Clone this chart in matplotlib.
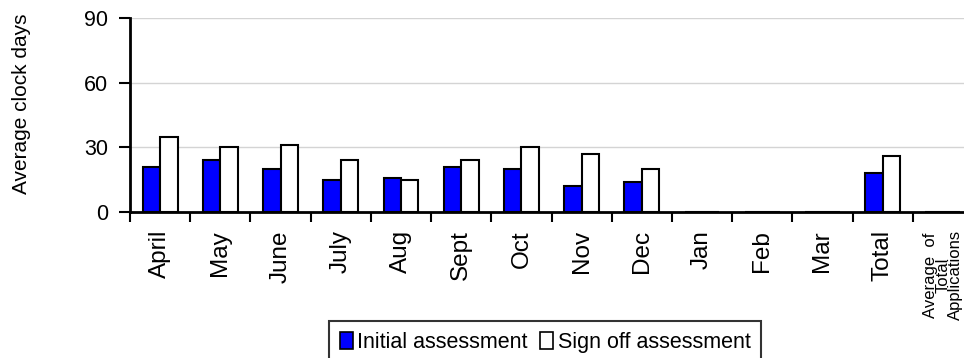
import numpy as np
import matplotlib
matplotlib.use("Agg")
import matplotlib.pyplot as plt
from matplotlib.patches import Patch

plt.rcParams['font.family'] = ['Liberation Sans', 'DejaVu Sans']

# data
months = ['April', 'May', 'June', 'July', 'Aug', 'Sept', 'Oct', 'Nov', 'Dec',
          'Jan', 'Feb', 'Mar', 'Total', 'Average  of\nTotal\nApplications']
initial = [21, 24, 20, 15, 16, 21, 20, 12, 14, 0, 0, 0, 18, 0]
sign_off = [35, 30, 31, 24, 15, 24, 30, 27, 20, 0, 0, 0, 26, 0]

fig = plt.figure(figsize=(9.64, 3.58), dpi=100)
ax = fig.add_axes([130/964, 1 - 212/358, 843/964, 194/358])

x = np.arange(len(months))
w = 0.29
ax.bar(x - w/2, initial, w, color='#0000ff', edgecolor='black', linewidth=1.5, zorder=3)
ax.bar(x + w/2, sign_off, w, color='white', edgecolor='black', linewidth=1.5, zorder=3)

ax.set_xlim(-0.5, len(months) - 0.5)
ax.set_ylim(0, 90)
ax.set_yticks([0, 30, 60, 90])
ax.grid(axis='y', color='#d4d4d4', linewidth=1, zorder=0)

# ticks at category boundaries, labels at centers
ax.set_xticks(np.arange(len(months) + 1) - 0.5)
ax.set_xticklabels([])
ax.set_xticks(x, minor=True)
ax.set_xticklabels(months, minor=True, rotation=90, fontsize=17.5)
ax.tick_params(axis='x', which='minor', length=0, pad=13)
ax.tick_params(axis='x', which='major', length=7, width=1.5, direction='out')
ax.tick_params(axis='y', length=8, width=1.5, direction='out', labelsize=15.5, pad=8)

# last label squeezed a bit so it stays inside the picture
last = ax.get_xticklabels(minor=True)[-1]
last.set_fontsize(12)
last.set_linespacing(0.8)
last.set_multialignment('center')
last.set_x(x[-1] - 0.12)

for s in ['top', 'right']:
    ax.spines[s].set_visible(False)
for s in ['left', 'bottom']:
    ax.spines[s].set_linewidth(2)
    ax.spines[s].set_zorder(4)

fig.text(22/964, 1 - 104/358, 'Average clock days', rotation=90,
         ha='center', va='center', fontsize=15)

handles = [Patch(facecolor='#0000ff', edgecolor='black', linewidth=1.2),
           Patch(facecolor='white', edgecolor='black', linewidth=1.2)]
leg = fig.legend(handles, ['Initial assessment', 'Sign off assessment'],
                 loc='upper left', bbox_to_anchor=(329/964, 1 - 321/358),
                 ncol=2, fontsize=15.5, frameon=True, fancybox=False,
                 edgecolor='black', handlelength=0.6, handleheight=0.8,
                 handletextpad=0.2, columnspacing=0.6, borderpad=0.5,
                 borderaxespad=0)
leg.get_frame().set_linewidth(1.5)

fig.savefig('out.png', dpi=100)
